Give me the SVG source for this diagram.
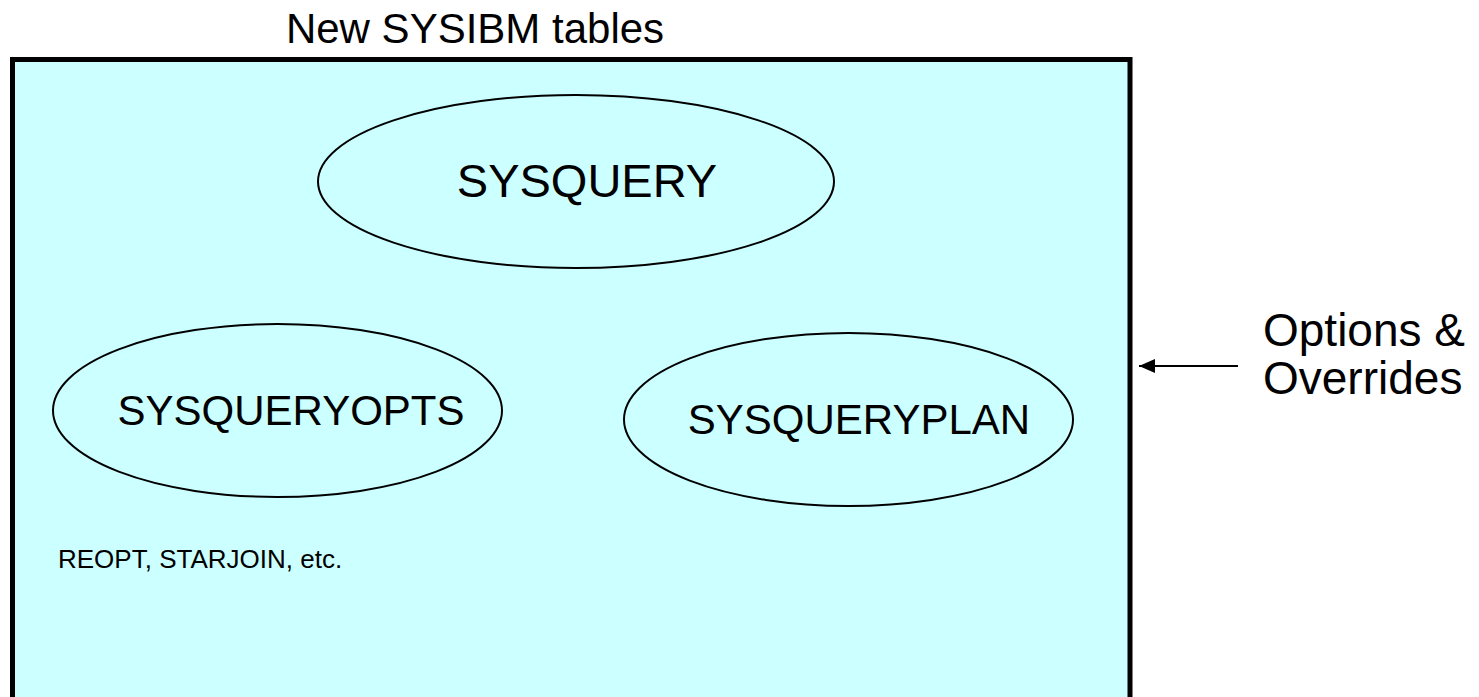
<svg xmlns="http://www.w3.org/2000/svg" width="1479" height="697" viewBox="0 0 1479 697">
  <style>
    text { font-family: "Liberation Sans", Arial, sans-serif; fill: #000; }
    .table { fill: #CCFFFF; stroke: #000; stroke-width: 2; }
    .conn { stroke: #000; stroke-width: 2; fill: none; }
  </style>
  <defs>
    <marker id="arrow" markerWidth="16" markerHeight="14" refX="16" refY="7" orient="auto" markerUnits="userSpaceOnUse">
      <path d="M0,0 L16,7 L0,14 Z" fill="#000"/>
    </marker>
  </defs>
  <rect width="1479" height="697" fill="#fff"/>

  <g id="title">
    <text x="475" y="43" font-size="42" text-anchor="middle">New SYSIBM tables</text>
  </g>

  <g id="container">
    <rect x="12.5" y="59.5" width="1117.5" height="680" fill="#CCFFFF" stroke="#000" stroke-width="5"/>
  </g>

  <g id="sysquery">
    <ellipse class="table" cx="576" cy="181.5" rx="258" ry="86.5"/>
    <text x="587" y="197" font-size="47" text-anchor="middle">SYSQUERY</text>
  </g>

  <g id="sysqueryopts">
    <ellipse class="table" cx="277.5" cy="410.5" rx="224.5" ry="86.5"/>
    <text x="291" y="425" font-size="42" text-anchor="middle">SYSQUERYOPTS</text>
  </g>

  <g id="sysqueryplan">
    <ellipse class="table" cx="848.5" cy="419.5" rx="224.5" ry="86.5"/>
    <text x="859" y="434" font-size="42" text-anchor="middle">SYSQUERYPLAN</text>
  </g>

  <g id="opts-note">
    <text x="58" y="568" font-size="26">REOPT, STARJOIN, etc.</text>
  </g>

  <g id="overrides">
    <text x="1263" y="346" font-size="46">Options &amp;</text>
    <text x="1263" y="394" font-size="46">Overrides</text>
  </g>

  <g id="connectors">
    <line class="conn" x1="1238" y1="366" x2="1139" y2="366" marker-end="url(#arrow)"/>
  </g>
</svg>
